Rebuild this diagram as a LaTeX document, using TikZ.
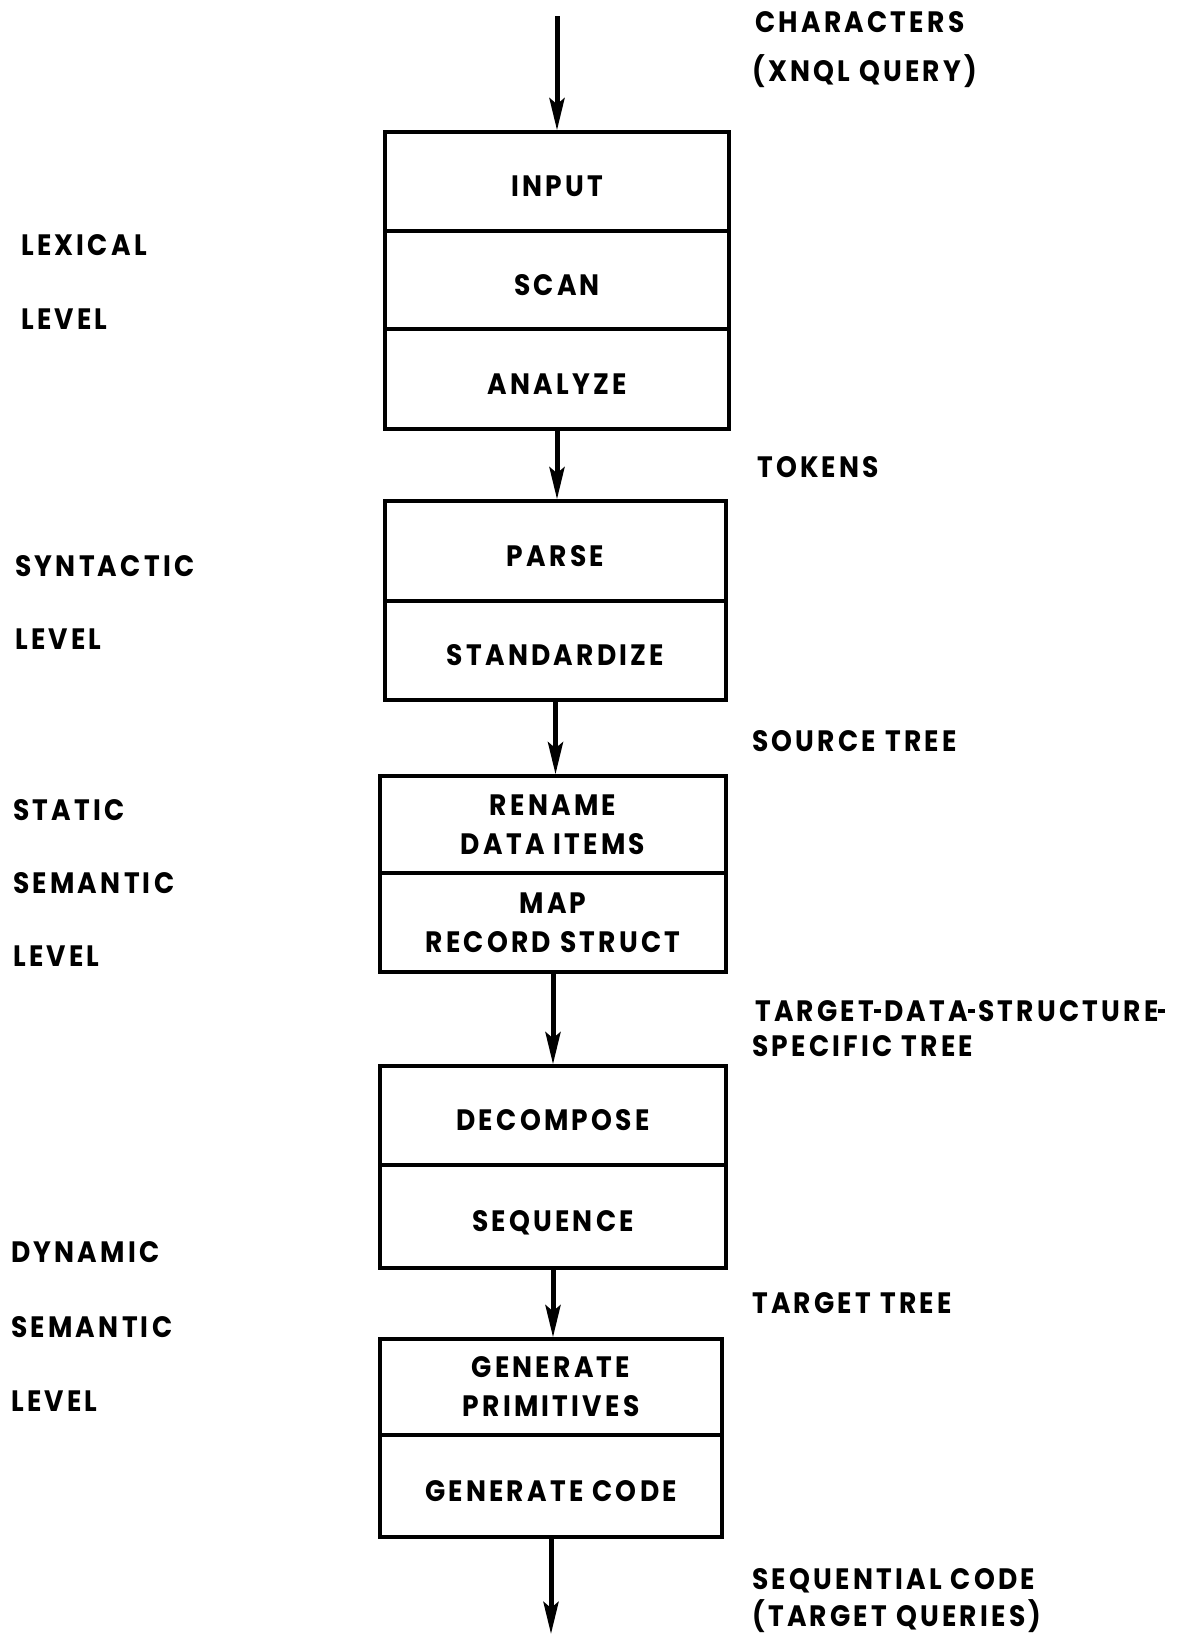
\documentclass[tikz,border=0pt]{standalone}
\usepackage{fontspec}
\setmainfont{Poppins}[LetterSpace=11,FakeStretch=0.9]
\usetikzlibrary{arrows.meta}
\newcommand{\hy}{\rule[8.5pt]{7pt}{3.5pt}\hspace{3pt}}
\tikzset{
  row/.style={draw, line width=3.5pt, minimum height=#1, inner sep=0pt, align=center,
              font=\bfseries\fontsize{29.5}{39}\selectfont},
  one/.style={text height=30pt, text depth=0pt},
  lbl/.style={anchor=base west, inner sep=0pt, font=\bfseries\fontsize{29.5}{39}\selectfont},
  arr/.style={line width=5pt, -{Stealth[length=32pt,width=15pt,inset=6pt]}},
}
\begin{document}
\begin{tikzpicture}[x=1pt,y=-1pt]
\useasboundingbox (0,0) rectangle (1198,1634);
% box 1
\node[row=99, one, minimum width=344] (input) at (557,181.5) {INPUT};
\node[row=98, one, minimum width=344] (scan) at (557,280) {SCAN};
\node[row=100, one, minimum width=344] (analyze) at (557,379) {ANALYZE};
% box 2
\node[row=100, one, minimum width=341] (parse) at (555.5,551) {PARSE};
\node[row=99, one, minimum width=341] (std) at (555.5,650.5) {STANDARDIZE};
% box 3
\node[row=97, minimum width=346] (rename) at (553,824.5) {RENAME\\DATA ITEMS};
\node[row=99, minimum width=346] (map) at (553,922.5) {MAP\\RECORD STRUCT};
% box 4
\node[row=99, one, minimum width=346] (decomp) at (553,1115.5) {DECOMPOSE};
\node[row=103, one, minimum width=346] (seq) at (553,1216.5) {SEQUENCE};
% box 5
\node[row=96, minimum width=342] (genprim) at (551,1387) {GENERATE\\PRIMITIVES};
\node[row=102, one, minimum width=342] (gencode) at (551,1486) {GENERATE CODE};
% arrows
\coordinate (start) at (557,16);
\coordinate (end) at (552,1634);
\draw[arr] (start) -- (input.north);
\draw[arr] (analyze.south) -- (analyze.south |- parse.north);
\draw[arr] (std.south) -- (std.south |- rename.north);
\draw[arr] (map.south) -- (map.south |- decomp.north);
\draw[arr] (seq.south) -- (seq.south |- genprim.north);
\draw[arr] (gencode.south) -- (gencode.south |- end);
% right labels
\node[lbl] (r1) at (755,32) {CHARACTERS};
\node[lbl] (r2) at (752,81) {(XNQL QUERY)};
\node[lbl] (r3) at (757,477) {TOKENS};
\node[lbl] (r4) at (752,751) {SOURCE TREE};
\node[lbl] (r5) at (755,1021) {TARGET\hy DATA\hy STRUCTURE\hy};
\node[lbl] (r6) at (752,1056) {SPECIFIC TREE};
\node[lbl] (r7) at (752,1313) {TARGET TREE};
\node[lbl] (r8) at (752,1589) {SEQUENTIAL CODE};
\node[lbl] (r9) at (752,1626) {(TARGET QUERIES)};
% left labels
\node[lbl] (l1) at (21,255) {LEXICAL};
\node[lbl] (l2) at (21,329) {LEVEL};
\node[lbl] (l3) at (15,576) {SYNTACTIC};
\node[lbl] (l4) at (15,649) {LEVEL};
\node[lbl] (l5) at (13,820) {STATIC};
\node[lbl] (l6) at (13,893) {SEMANTIC};
\node[lbl] (l7) at (13,966) {LEVEL};
\node[lbl] (l8) at (11,1262) {DYNAMIC};
\node[lbl] (l9) at (11,1337) {SEMANTIC};
\node[lbl] (l10) at (11,1411) {LEVEL};
\end{tikzpicture}
\end{document}
